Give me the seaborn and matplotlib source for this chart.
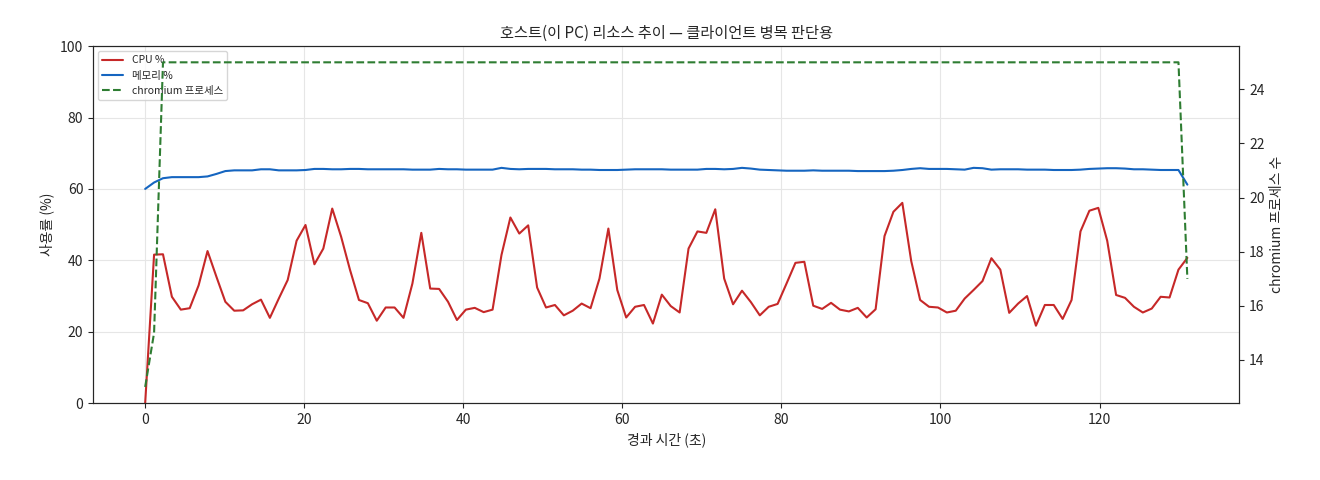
import numpy as np
import pandas as pd
import matplotlib
matplotlib.use("Agg")
import matplotlib.pyplot as plt
import seaborn as sns

sns.set_style("ticks")
plt.rcParams['font.family'] = ['Noto Sans CJK KR', 'DejaVu Sans']
plt.rcParams['axes.unicode_minus'] = False

cpu = [0, 41.6, 41.7, 29.8, 26.2, 26.6, 33, 42.6, 35.4, 28.4,
       25.9, 26.0, 27.7, 29, 23.9, 29.3, 34.5, 45.5, 49.9, 38.9,
       43.3, 54.5, 46.6, 37.3, 28.9, 28, 23.1, 26.8, 26.8, 23.9,
       33.5, 47.7, 32.1, 32, 28.4, 23.3, 26.2, 26.7, 25.5,
       26.2, 41.5, 52.0, 47.5, 49.8, 32.4, 26.8, 27.5, 24.6, 25.9,
       27.9, 26.6, 34.9, 48.9, 31.7, 24.0, 27, 27.5, 22.3, 30.4,
       27.2, 25.4, 43.3, 48.1, 47.7, 54.3, 34.9, 27.7, 31.5, 28.3,
       24.6, 27.0, 27.8, 33.5, 39.3, 39.6, 27.3, 26.4, 28.1, 26.2,
       25.7, 26.7, 24.0, 26.3, 46.8, 53.6, 56.1, 39.8, 28.9, 27.0,
       26.8, 25.4, 25.9, 29.3, 31.7, 34.2, 40.6, 37.4, 25.3, 27.9,
       30.0, 21.7, 27.5, 27.5, 23.6, 28.9, 48.1, 53.9, 54.7, 45.5,
       30.3, 29.5, 27.0, 25.4, 26.5, 29.8, 29.6, 37.4, 40.7]

mem = [60.0, 61.8, 63.0, 63.3, 63.3, 63.3, 63.3, 63.5, 64.2, 65.0,
       65.2, 65.2, 65.2, 65.5, 65.5, 65.2, 65.2, 65.2, 65.3, 65.6,
       65.6, 65.5, 65.5, 65.6, 65.6, 65.5, 65.5, 65.5, 65.5, 65.5,
       65.4, 65.4, 65.4, 65.6, 65.5, 65.5, 65.4, 65.4, 65.4, 65.4,
       65.9, 65.6, 65.5, 65.6, 65.6, 65.6, 65.5, 65.5, 65.5, 65.4,
       65.4, 65.3, 65.3, 65.3, 65.4, 65.5, 65.5, 65.5, 65.5, 65.4,
       65.4, 65.4, 65.4, 65.6, 65.6, 65.5, 65.6, 65.9, 65.7, 65.4,
       65.3, 65.2, 65.1, 65.1, 65.1, 65.2, 65.1, 65.1, 65.1, 65.1,
       65.0, 65.0, 65.0, 65.0, 65.1, 65.3, 65.6, 65.8, 65.6, 65.6,
       65.6, 65.5, 65.4, 65.9, 65.8, 65.4, 65.5, 65.5, 65.5, 65.4,
       65.4, 65.4, 65.3, 65.3, 65.3, 65.4, 65.6, 65.7, 65.8, 65.8,
       65.7, 65.5, 65.5, 65.4, 65.3, 65.3, 65.3, 61.2]

chromium = [13, 15] + [25] * 115 + [17]

dt = 1.12
t = np.arange(len(cpu)) * dt
df = pd.DataFrame({"t": t, "cpu": cpu, "mem": mem, "chromium": chromium})

fig = plt.figure(figsize=(13.2, 4.8), dpi=100)
ax = fig.add_axes([0.0705, 0.16, 0.8685, 0.744])
ax2 = ax.twinx()

sns.lineplot(data=df, x="t", y="cpu", ax=ax, color="#c62828", lw=1.5, label="CPU %", legend=False)
sns.lineplot(data=df, x="t", y="mem", ax=ax, color="#1565c0", lw=1.5, label="메모리 %", legend=False)
sns.lineplot(data=df, x="t", y="chromium", ax=ax2, color="#2e7d32", lw=1.5, ls="--",
             label="chromium 프로세스", legend=False)

ax.set_ylim(0, 100)
ax.grid(True, color="#e6e6e6", lw=0.8)
ax.set_axisbelow(True)
ax.set_xlabel("경과 시간 (초)", fontsize=10)
ax.set_ylabel("사용률 (%)", fontsize=10)
ax2.set_ylabel("chromium 프로세스 수", fontsize=10)
ax.set_title("호스트(이 PC) 리소스 추이 — 클라이언트 병목 판단용", fontsize=11)
ax.tick_params(labelsize=10)
ax2.tick_params(labelsize=10)

h1, l1 = ax.get_legend_handles_labels()
h2, l2 = ax2.get_legend_handles_labels()
ax.legend(h1 + h2, l1 + l2, loc="upper left", fontsize=7.5, frameon=True)

fig.savefig("out.png", dpi=100)
